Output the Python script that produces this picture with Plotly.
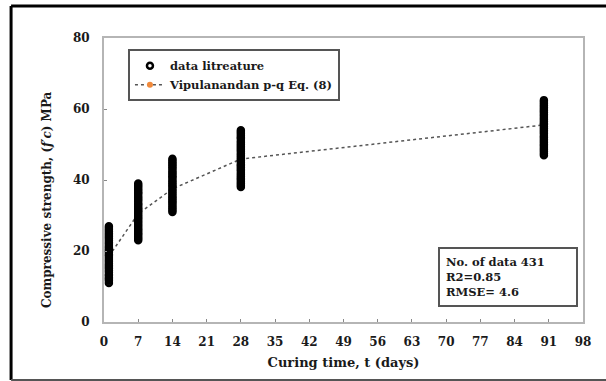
import plotly.graph_objects as go

# Data
ages = [1, 7, 14, 28, 90]
strength_day1 = [11.0, 11.6, 12.1, 12.5, 13.0, 13.4, 14.0, 14.5, 15.1, 15.5, 16.0, 16.4, 17.0, 17.5,
                 18.0, 18.6, 19.0, 19.5, 20.1, 20.5, 21.0, 21.4, 22.0, 22.5, 23.0, 23.6, 24.0, 24.5,
                 25.0, 25.5, 26.0, 26.5, 27.0]
strength_day7 = [23.0, 23.5, 24.0, 24.6, 25.0, 25.5, 26.0, 26.4, 27.0, 27.5, 28.0, 28.5, 29.1, 29.5,
                 30.0, 30.5, 31.0, 31.6, 32.0, 32.5, 33.0, 33.4, 34.0, 34.5, 35.0, 35.5, 36.1, 36.5,
                 37.0, 37.5, 38.0, 38.5, 39.0]
strength_day14 = [31.0, 31.5, 32.0, 32.5, 33.0, 33.6, 34.0, 34.5, 35.0, 35.4, 36.0, 36.5, 37.0, 37.5,
                  38.1, 38.5, 39.0, 39.5, 40.0, 40.6, 41.0, 41.5, 42.0, 42.4, 43.0, 43.5, 44.0, 44.5,
                  45.0, 45.5, 46.0]
strength_day28 = [38.0, 38.5, 39.0, 39.5, 40.1, 40.5, 41.0, 41.5, 42.0, 42.6, 43.0, 43.5, 44.0, 44.4,
                  45.0, 45.5, 46.0, 46.5, 47.0, 47.5, 48.1, 48.5, 49.0, 49.5, 50.0, 50.5, 51.0, 51.6,
                  52.0, 52.5, 53.0, 53.5, 54.0]
strength_day90 = [47.0, 47.5, 48.0, 48.5, 49.0, 49.6, 50.0, 50.5, 51.0, 51.5, 52.0, 52.4, 53.0, 53.5,
                  54.0, 54.5, 55.0, 55.6, 56.0, 56.5, 57.0, 57.5, 58.0, 58.5, 59.1, 59.5, 60.0, 60.5,
                  61.0, 61.5, 62.0, 62.5]
model_days = [1, 7, 14, 28, 90]
model_strength = [18.5, 30.5, 37.5, 45.9, 55.5]

x_ticks = [0, 7, 14, 21, 28, 35, 42, 49, 56, 63, 70, 77, 84, 91, 98]
y_ticks = [0, 20, 40, 60, 80]

groups = [strength_day1, strength_day7, strength_day14, strength_day28, strength_day90]
data_x, data_y = [], []
for a, vals in zip(ages, groups):
    data_x += [a] * len(vals)
    data_y += vals

FONT = "DejaVu Serif, Liberation Serif, serif"
TXT = "#1a1a1a"

fig = go.Figure()
# model line drawn first so the dense data columns sit on top of it
fig.add_trace(go.Scatter(
    x=model_days, y=model_strength, mode="lines+markers", name="Vipulanandan p-q Eq. (8)",
    line=dict(color="#555555", width=1.5, dash="dot"),
    marker=dict(symbol="circle", size=6, color="#f08a3c"),
    legendrank=2,
))
fig.add_trace(go.Scatter(
    x=data_x, y=data_y, mode="markers", name="data litreature",
    marker=dict(symbol="circle-open", size=6, color="black", line=dict(width=2.5, color="black")),
    legendrank=1,
))

axis_common = dict(
    showline=True, linecolor="#b5b5b5", linewidth=2, mirror=True,
    ticks="inside", ticklen=3, tickcolor="#888888", tickwidth=1,
    showgrid=False, zeroline=False,
    tickfont=dict(family=FONT, size=12, color=TXT, weight="bold"),
)

fig.update_xaxes(range=[0, 98], tickvals=x_ticks, ticklabelstandoff=8, **axis_common,
                 title=dict(text="Curing time, t (days)", standoff=9,
                            font=dict(family=FONT, size=13, color=TXT, weight="bold")))
fig.update_yaxes(range=[0, 80], tickvals=y_ticks, ticklabelstandoff=10, **axis_common)

fig.update_layout(
    width=606, height=381,
    margin=dict(l=104, r=23, t=38, b=59),
    paper_bgcolor="white", plot_bgcolor="white",
    showlegend=True,
    legend=dict(x=0.05, y=0.96, xanchor="left", yanchor="top",
                bgcolor="white", bordercolor="#555555", borderwidth=2,
                font=dict(family=FONT, size=11.5, color=TXT, weight="bold"),
                tracegroupgap=0),
    annotations=[
        dict(
            xref="paper", yref="paper", x=0.697, y=0.264, xanchor="left", yanchor="top",
            text="No. of data 431<br>R2=0.85<br>RMSE= 4.6", showarrow=False, align="left",
            font=dict(family=FONT, size=11.5, color=TXT, weight="bold"),
            bordercolor="#555555", borderwidth=2, borderpad=6, bgcolor="white", width=124,
        ),
        dict(
            xref="paper", yref="paper", x=-0.119, y=0.433, xanchor="center", yanchor="middle",
            text="Compressive strength, (<i>f′c</i>) MPa", textangle=-90, showarrow=False,
            font=dict(family=FONT, size=12, color=TXT, weight="bold"),
        ),
    ],
    shapes=[
        dict(type="line", xref="paper", yref="paper", x0=-0.194, x1=1.06, y0=1.113, y1=1.113,
             line=dict(color="black", width=3)),
        dict(type="line", xref="paper", yref="paper", x0=-0.194, x1=-0.194, y0=1.113, y1=-0.204,
             line=dict(color="black", width=3)),
        dict(type="line", xref="paper", yref="paper", x0=-0.194, x1=1.06, y0=-0.204, y1=-0.204,
             line=dict(color="#555555", width=2)),
    ],
)

fig.write_html("out.html", config={"displayModeBar": False},
               post_script="document.body.style.margin='0';")
